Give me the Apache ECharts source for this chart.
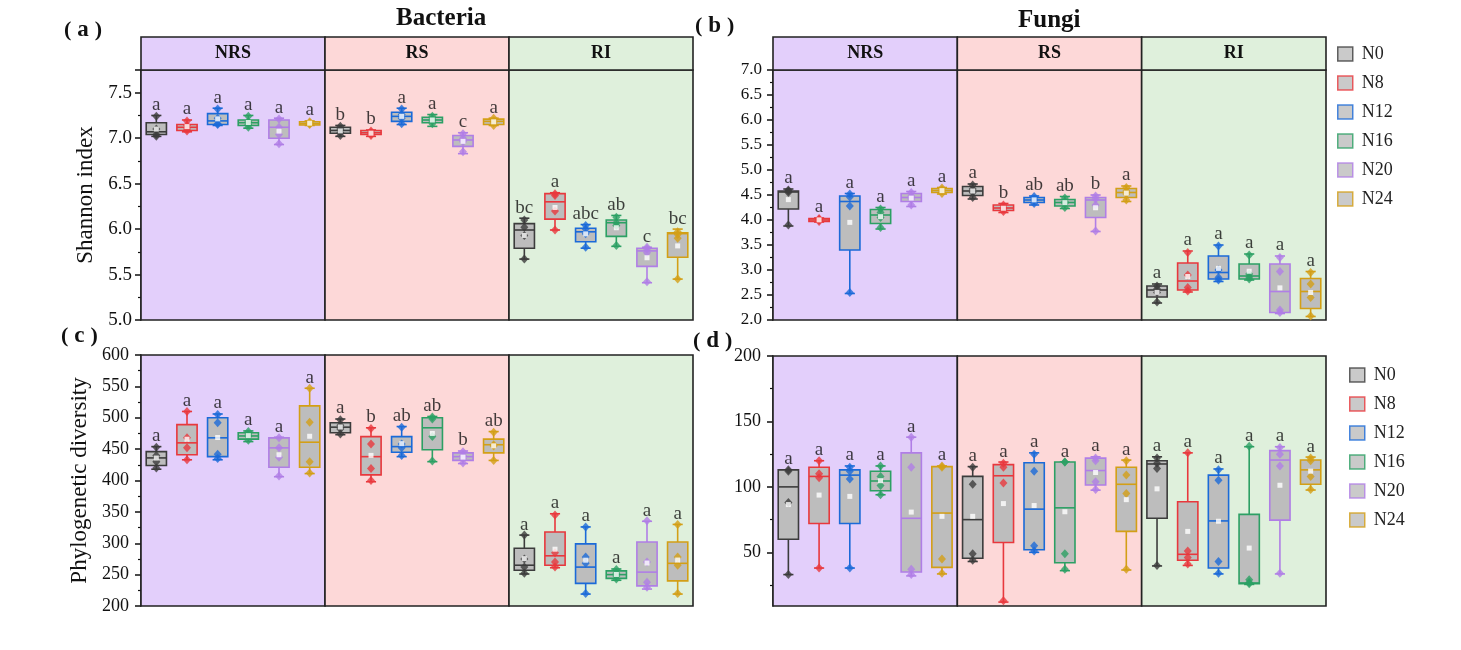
<!DOCTYPE html>
<html><head><meta charset="utf-8">
<script src="https://cdn.jsdelivr.net/npm/echarts@6/dist/echarts.min.js"></script>
<style>html,body{margin:0;background:#fff}#c{width:1461px;height:650px}</style>
</head><body><div id="c"></div>
<script>
const treatments = ['N0','N8','N12','N16','N20','N24'];
const groups = ['NRS','RS','RI'];
const trtColors = ['#3c3c3c','#e8383d','#1b6ad8','#2ca064','#b07ee6','#d39f16'];
const groupColors = ['#e3cffb','#fdd8d8','#dff0dc'];
const SERIF = '"Liberation Serif","Times New Roman",serif';

// Panel (a) Bacteria Shannon: [min, Q1, median, Q3, max] per box (NRS x6, RS x6, RI x6)
const aStats = [
  [7.02,7.04,7.07,7.17,7.25],[7.07,7.085,7.12,7.15,7.20],[7.14,7.15,7.19,7.27,7.33],
  [7.11,7.14,7.17,7.20,7.25],[6.93,7.00,7.12,7.20,7.22],[7.14,7.145,7.16,7.18,7.19],
  [7.02,7.055,7.085,7.12,7.14],[7.02,7.04,7.06,7.085,7.09],[7.15,7.185,7.24,7.285,7.33],
  [7.13,7.17,7.20,7.23,7.26],[6.83,6.91,6.98,7.03,7.06],[7.14,7.15,7.185,7.21,7.22],
  [5.67,5.79,5.99,6.06,6.12],[5.99,6.11,6.30,6.39,6.40],[5.79,5.86,5.97,6.01,6.05],
  [5.81,5.92,6.07,6.10,6.15],[5.41,5.59,5.76,5.79,5.80],[5.45,5.69,5.95,5.96,6.00]
];
const aPoints = [
  [7.24,7.10,7.04,7.02],[7.19,7.14,7.10,7.08],[7.32,7.22,7.16,7.15],
  [7.24,7.18,7.15,7.12],[7.21,7.12,7.04,6.94],[7.18,7.17,7.16,7.15],
  [7.13,7.10,7.06,7.03],[7.08,7.06,7.05,7.03],[7.32,7.26,7.22,7.16],
  [7.24,7.21,7.19,7.16],[7.05,7.00,6.96,6.85],[7.22,7.19,7.17,7.14],
  [6.10,6.02,5.93,5.67],[6.39,6.37,6.20,5.99],[6.04,6.00,5.95,5.80],
  [6.13,6.07,6.04,5.82],[5.80,5.78,5.74,5.42],[5.97,5.94,5.90,5.45]
];
const aLetters = ['a','a','a','a','a','a','b','b','a','a','c','a','bc','a','abc','ab','c','bc'];

// Panel (b) Fungi Shannon
const bStats = [
  [3.88,4.22,4.56,4.58,4.62],[3.96,3.97,4.00,4.03,4.04],[2.53,3.40,4.37,4.48,4.53],
  [3.82,3.93,4.10,4.21,4.25],[4.27,4.37,4.45,4.53,4.57],[4.52,4.55,4.59,4.63,4.65],
  [4.42,4.49,4.58,4.67,4.72],[4.15,4.19,4.24,4.30,4.33],[4.30,4.35,4.40,4.45,4.48],
  [4.23,4.28,4.35,4.41,4.47],[3.77,4.05,4.40,4.45,4.50],[4.37,4.45,4.55,4.63,4.68],
  [2.34,2.46,2.60,2.68,2.72],[2.56,2.60,2.78,3.14,3.38],[2.77,2.82,2.95,3.28,3.50],
  [2.80,2.82,2.88,3.12,3.32],[2.13,2.15,2.57,3.12,3.28],[2.07,2.23,2.57,2.83,2.97]
];
const bPoints = [
  [4.60,4.58,4.55,3.90],[4.03,4.01,4.00,3.97],[4.52,4.46,4.28,2.55],
  [4.22,4.15,4.05,3.85],[4.55,4.48,4.42,4.30],[4.64,4.60,4.58,4.53],
  [4.70,4.62,4.55,4.45],[4.30,4.25,4.22,4.17],[4.47,4.42,4.39,4.33],
  [4.44,4.37,4.33,4.25],[4.48,4.42,4.30,3.78],[4.65,4.58,4.52,4.40],
  [2.68,2.62,2.55,2.36],[3.35,2.90,2.65,2.58],[3.48,3.00,2.85,2.80],
  [3.30,2.92,2.86,2.82],[3.25,2.97,2.20,2.15],[2.95,2.72,2.45,2.08]
];
const bLetters = ['a','a','a','a','a','a','a','b','ab','ab','b','a','a','a','a','a','a','a'];

// Panel (c) Bacteria phylogenetic diversity
const cStats = [
  [418,424,436,446,454],[433,441,460,489,510],[433,438,468,500,506],
  [462,466,471,476,479],[406,421,452,468,469],[411,421,461,519,547],
  [473,476,485,492,498],[398,409,438,470,484],[438,445,454,470,486],
  [430,449,484,500,502],[427,432,438,444,447],[432,444,457,466,478],
  [251,257,265,292,313],[261,265,280,318,347],[219,236,262,299,326],
  [241,244,250,256,259],[227,232,254,302,335],[219,240,268,302,330]
];
const cPoints = [
  [453,440,430,420],[510,468,452,433],[505,492,442,435],
  [478,474,470,464],[468,452,437,407],[547,493,430,412],
  [497,488,482,474],[483,458,419,400],[485,458,452,440],
  [501,498,470,431],[446,440,435,428],[477,457,455,432],
  [313,275,262,252],[345,285,270,262],[326,278,268,220],
  [258,252,248,243],[336,270,238,230],[330,278,265,220]
];
const cLetters = ['a','a','a','a','a','a','a','b','ab','ab','b','ab','a','a','a','a','a','a'];

// Panel (d) Fungi phylogenetic diversity
const dStats = [
  [33,60,100,113,113],[38,72,108,115,120],[38,72,109,113,116],
  [94,97,104.5,112,116],[32,35,76,126,138],[33.5,38.5,80,115.5,116],
  [43,45.5,75,108,115.5],[12,57.5,108.5,117,119],[50,52,83,118.5,126],
  [36,42,84,119,119],[97.5,101.5,112.5,122,123],[36.5,66,102,115,120.5],
  [39.6,76,117.5,120,123],[40,44,48.5,88.7,126],[33.5,38,74,109,113.7],
  [25.5,26,26.6,79,130.7],[33.5,74.6,120.5,127.7,130.7],[97.6,102,113,120.5,122.8]
];
const dPoints = [
  [113,112,88,33],[120,110,107,38],[115,112,106,38],
  [116,108,101,94],[138,115,37,33],[116,115,45,34],
  [115,102,49,44],[118,115,103,13],[125,112,55,51],
  [119,119,49,37],[122,120,104,98],[120,109,95,37],
  [122,118,114,40],[126,51,46,41],[113,105,43,34],
  [131,29,27,26],[130,125,116,34],[122,120,108,98]
];
const dLetters = ['a','a','a','a','a','a','a','a','a','a','a','a','a','a','a','a','a','a'];
const dTicks = [50,100,150,200];

const chart = echarts.init(document.getElementById('c'));

const grids = [
  {left:141, top:70, width:552, height:250},
  {left:773, top:70, width:553, height:250},
  {left:141, top:355, width:552, height:251},
  {left:773, top:356, width:553, height:250},
  {left:141, top:37, width:552, height:33},
  {left:773, top:37, width:553, height:33}
];

const xAxes = grids.map((g,i)=>({gridIndex:i, type:'value', min:-0.5, max:17.5, show:false}));

function yAx(gi, opt){
  return Object.assign({
    gridIndex:gi, type:'value',
    axisLine:{show:true, onZero:false, lineStyle:{color:'#111', width:1.5}},
    axisTick:{show:true, inside:false, length:6, lineStyle:{color:'#111', width:1.5}},
    minorTick:{show:true, splitNumber:2, length:3, lineStyle:{color:'#111', width:1.2}},
    splitLine:{show:false},
    axisLabel:{fontFamily:SERIF, fontSize:18, color:'#111', margin:10},
    nameLocation:'middle',
    nameTextStyle:{fontFamily:SERIF, fontSize:23, color:'#111'}
  }, opt);
}
const yAxes = [
  yAx(0,{min:5, max:7.75, interval:0.5, name:'Shannon index', nameGap:44,
     axisLabel:{fontFamily:SERIF, fontSize:19, color:'#111', margin:9, showMaxLabel:false, formatter:v=>v.toFixed(1)}}),
  yAx(1,{min:2, max:7, interval:0.5,
     axisLabel:{fontFamily:SERIF, fontSize:17, color:'#111', margin:11, formatter:v=>v.toFixed(1)}}),
  yAx(2,{min:200, max:600, interval:50, name:'Phylogenetic diversity', nameGap:50,
     axisLabel:{fontFamily:SERIF, fontSize:18, color:'#111', margin:12}}),
  yAx(3,{min:9, max:200, splitNumber:4,
     axisTick:{show:true, inside:false, length:6, customValues:dTicks, lineStyle:{color:'#111', width:1.5}},
     axisLabel:{fontFamily:SERIF, fontSize:18, color:'#111', margin:12, customValues:dTicks}}),
  {gridIndex:4, type:'value', min:0, max:1, show:false},
  {gridIndex:5, type:'value', min:0, max:1, show:false}
];

function boxRender(params, api){
  const i = api.value(0);
  const col = trtColors[i % 6];
  const w = api.size([1,0])[0] * 0.66;
  const hw = w/2, cw = w*0.25;
  const pMin = api.coord([i, api.value(1)]);
  const pQ1 = api.coord([i, api.value(2)]);
  const pMed = api.coord([i, api.value(3)]);
  const pQ3 = api.coord([i, api.value(4)]);
  const pMax = api.coord([i, api.value(5)]);
  const x = pMin[0];
  const ls = {stroke:col, lineWidth:1.6};
  return {type:'group', children:[
    {type:'line', shape:{x1:x,y1:pMax[1],x2:x,y2:pQ3[1]}, style:ls},
    {type:'line', shape:{x1:x,y1:pQ1[1],x2:x,y2:pMin[1]}, style:ls},
    {type:'line', shape:{x1:x-cw,y1:pMax[1],x2:x+cw,y2:pMax[1]}, style:ls},
    {type:'line', shape:{x1:x-cw,y1:pMin[1],x2:x+cw,y2:pMin[1]}, style:ls},
    {type:'rect', shape:{x:x-hw,y:pQ3[1],width:w,height:Math.max(pQ1[1]-pQ3[1],1)}, style:{fill:'#bdbdbd', stroke:col, lineWidth:1.6}},
    {type:'line', shape:{x1:x-hw,y1:pMed[1],x2:x+hw,y2:pMed[1]}, style:ls}
  ]};
}

function bgSeries(gi, withLabels){
  return {
    type:'scatter', xAxisIndex:gi, yAxisIndex:gi, data:[], z:0, silent:true,
    markArea:{silent:true,
      label:{show:!!withLabels, position:'inside', fontFamily:SERIF, fontWeight:'bold', fontSize:18, color:'#111'},
      data: groups.map((g,k)=>[
        {name:g, xAxis:-0.5+6*k, itemStyle:{color:groupColors[k], borderColor:'#222', borderWidth:1.6}},
        {xAxis:5.5+6*k}
      ])
    }
  };
}

function panelSeries(gi, stats, pts, letters){
  const boxData = stats.map((s,i)=>[i].concat(s));
  const ptData = [];
  pts.forEach((arr,i)=>arr.forEach(v=>ptData.push({value:[i,v], itemStyle:{color:trtColors[i%6]}})));
  const meanData = pts.map((arr,i)=>[i, arr.reduce((a,b)=>a+b,0)/arr.length]);
  const letData = stats.map((s,i)=>[i, s[4], letters[i]]);
  return [
    bgSeries(gi, false),
    {type:'custom', xAxisIndex:gi, yAxisIndex:gi, renderItem:boxRender, data:boxData, z:2, silent:true,
     encode:{x:0, y:[1,2,3,4,5]}},
    {type:'scatter', xAxisIndex:gi, yAxisIndex:gi, data:ptData, symbol:'diamond', symbolSize:[8,9], z:3, silent:true},
    {type:'scatter', xAxisIndex:gi, yAxisIndex:gi, data:meanData, symbol:'rect', symbolSize:5, z:4, silent:true,
     itemStyle:{color:'#ffffff'}},
    {type:'scatter', xAxisIndex:gi, yAxisIndex:gi, data:letData, symbolSize:0, z:5, silent:true,
     label:{show:true, position:'top', distance:1, formatter:p=>p.value[2], fontFamily:SERIF, fontSize:19, color:'#111'}}
  ];
}

const series = [].concat(
  panelSeries(0, aStats, aPoints, aLetters),
  panelSeries(1, bStats, bPoints, bLetters),
  panelSeries(2, cStats, cPoints, cLetters),
  panelSeries(3, dStats, dPoints, dLetters),
  [bgSeries(4, true), bgSeries(5, true)],
  treatments.map((t,k)=>({type:'scatter', name:t, xAxisIndex:0, yAxisIndex:0, data:[],
    itemStyle:{color:'#bdbdbd', borderColor:trtColors[k], borderWidth:1.5}}))
);

function legendAt(left, top){
  return {orient:'vertical', left:left, top:top, itemWidth:15, itemHeight:14, itemGap:11,
    selectedMode:false,
    textStyle:{fontFamily:SERIF, fontSize:18, color:'#222', padding:[0,0,0,4]},
    data: treatments.map((t,k)=>({name:t, icon:'rect',
      itemStyle:{color:'#bdbdbd', borderColor:trtColors[k], borderWidth:1.5}}))};
}

const tStyle = {fontFamily:SERIF, fontWeight:'bold', fontSize:25, color:'#111'};
const pStyle = {
  rich:{
    o:{fontFamily:SERIF, fontSize:22, color:'#111', padding:[0,6,0,0]},
    c:{fontFamily:SERIF, fontSize:22, color:'#111', padding:[0,0,0,6]},
    l:{fontFamily:SERIF, fontWeight:'bold', fontSize:23, color:'#111'}
  }
};
const plabel = s => '{o|(}{l|' + s + '}{c|)}';

chart.setOption({
  animation:false,
  backgroundColor:'#ffffff',
  title:[
    {text:'Bacteria', left:396, top:6, textStyle:tStyle, padding:0},
    {text:'Fungi', left:1018, top:8, textStyle:tStyle, padding:0},
    {text:plabel('a'), left:64, top:19, textStyle:pStyle, padding:0},
    {text:plabel('b'), left:695, top:15, textStyle:pStyle, padding:0},
    {text:plabel('c'), left:61, top:325, textStyle:pStyle, padding:0},
    {text:plabel('d'), left:693, top:330, textStyle:pStyle, padding:0}
  ],
  legend:[legendAt(1332, 40), legendAt(1344, 361)],
  grid:grids,
  xAxis:xAxes,
  yAxis:yAxes,
  series:series
});
</script>
</body></html>
